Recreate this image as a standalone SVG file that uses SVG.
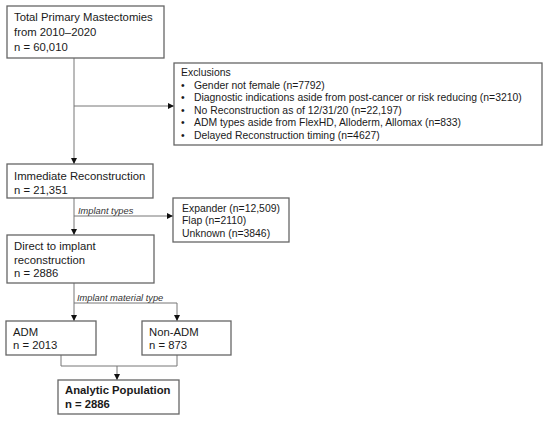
<svg xmlns="http://www.w3.org/2000/svg" width="550" height="422" viewBox="0 0 550 422">
<style>
.box{fill:#fff;stroke:#666;stroke-width:1.3}
.t{font-family:"Liberation Sans",Arial,sans-serif;font-size:11.3px;fill:#1a1a1a}
.s{font-family:"Liberation Sans",Arial,sans-serif;font-size:10.4px;fill:#1a1a1a}
.lbl{font-family:"Liberation Sans",Arial,sans-serif;font-size:9.3px;font-style:italic;fill:#333}
.b{font-weight:bold}
.ln{fill:none;stroke:#777;stroke-width:1}
</style>
<defs>
<marker id="ah" viewBox="0 0 6 6" refX="6" refY="3" markerWidth="6" markerHeight="6" markerUnits="userSpaceOnUse" orient="auto">
<path d="M0,0 L6,3 L0,6 Z" fill="#111"/>
</marker>
</defs>
<rect width="550" height="422" fill="#fff"/>
<g id="connectors">
<path class="ln" d="M74,58 V164" marker-end="url(#ah)"/>
<path class="ln" d="M74,106 H174" marker-end="url(#ah)"/>
<path class="ln" d="M74,198 V235" marker-end="url(#ah)"/>
<path class="ln" d="M74,216 H173" marker-end="url(#ah)"/>
<text class="lbl" x="78" y="214">Implant types</text>
<path class="ln" d="M74,283 V321" marker-end="url(#ah)"/>
<path class="ln" d="M74,303 H177 V321" marker-end="url(#ah)"/>
<text class="lbl" x="77" y="301">Implant material type</text>
<path class="ln" d="M61,355 V366 H177 V355"/>
<path class="ln" d="M117,366 V380" marker-end="url(#ah)"/>
</g>
<g id="total">
<rect class="box" x="7" y="6" width="157" height="52"/>
<text class="t" x="14" y="21">Total Primary Mastectomies</text>
<text class="t" x="14" y="36">from 2010–2020</text>
<text class="t" x="14" y="51">n = 60,010</text>
</g>
<g id="exclusions">
<rect class="box" x="174" y="63" width="368" height="82"/>
<text class="s" x="181" y="76">Exclusions</text>
<text class="s" x="181" y="88.5">•</text><text class="s" x="194" y="88.5">Gender not female (n=7792)</text>
<text class="s" x="181" y="101">•</text><text class="s" x="194" y="101">Diagnostic indications aside from post-cancer or risk reducing (n=3210)</text>
<text class="s" x="181" y="113.5">•</text><text class="s" x="194" y="113.5">No Reconstruction as of 12/31/20 (n=22,197)</text>
<text class="s" x="181" y="126">•</text><text class="s" x="194" y="126">ADM types aside from FlexHD, Alloderm, Allomax (n=833)</text>
<text class="s" x="181" y="138.5">•</text><text class="s" x="194" y="138.5">Delayed Reconstruction timing (n=4627)</text>
</g>
<g id="immediate">
<rect class="box" x="7" y="164" width="146" height="34"/>
<text class="t" x="14" y="179.5">Immediate Reconstruction</text>
<text class="t" x="14" y="193.5">n = 21,351</text>
</g>
<g id="types">
<rect class="box" x="173" y="198" width="116" height="44"/>
<text class="s" x="182" y="212">Expander (n=12,509)</text>
<text class="s" x="182" y="224.3">Flap (n=2110)</text>
<text class="s" x="182" y="236.6">Unknown (n=3846)</text>
</g>
<g id="direct">
<rect class="box" x="7" y="235" width="147" height="48"/>
<text class="t" x="14" y="250">Direct to implant</text>
<text class="t" x="14" y="263.5">reconstruction</text>
<text class="t" x="14" y="277">n = 2886</text>
</g>
<g id="adm">
<rect class="box" x="6" y="321" width="90" height="34"/>
<text class="t" x="13" y="335.7">ADM</text>
<text class="t" x="13" y="349.3">n = 2013</text>
</g>
<g id="nonadm">
<rect class="box" x="142" y="321" width="89" height="34"/>
<text class="t" x="149" y="335.7">Non-ADM</text>
<text class="t" x="149" y="349.3">n = 873</text>
</g>
<g id="analytic">
<rect class="box" x="58" y="380" width="121" height="34"/>
<text class="t b" x="65" y="394.3">Analytic Population</text>
<text class="t b" x="65" y="408">n = 2886</text>
</g>
</svg>
